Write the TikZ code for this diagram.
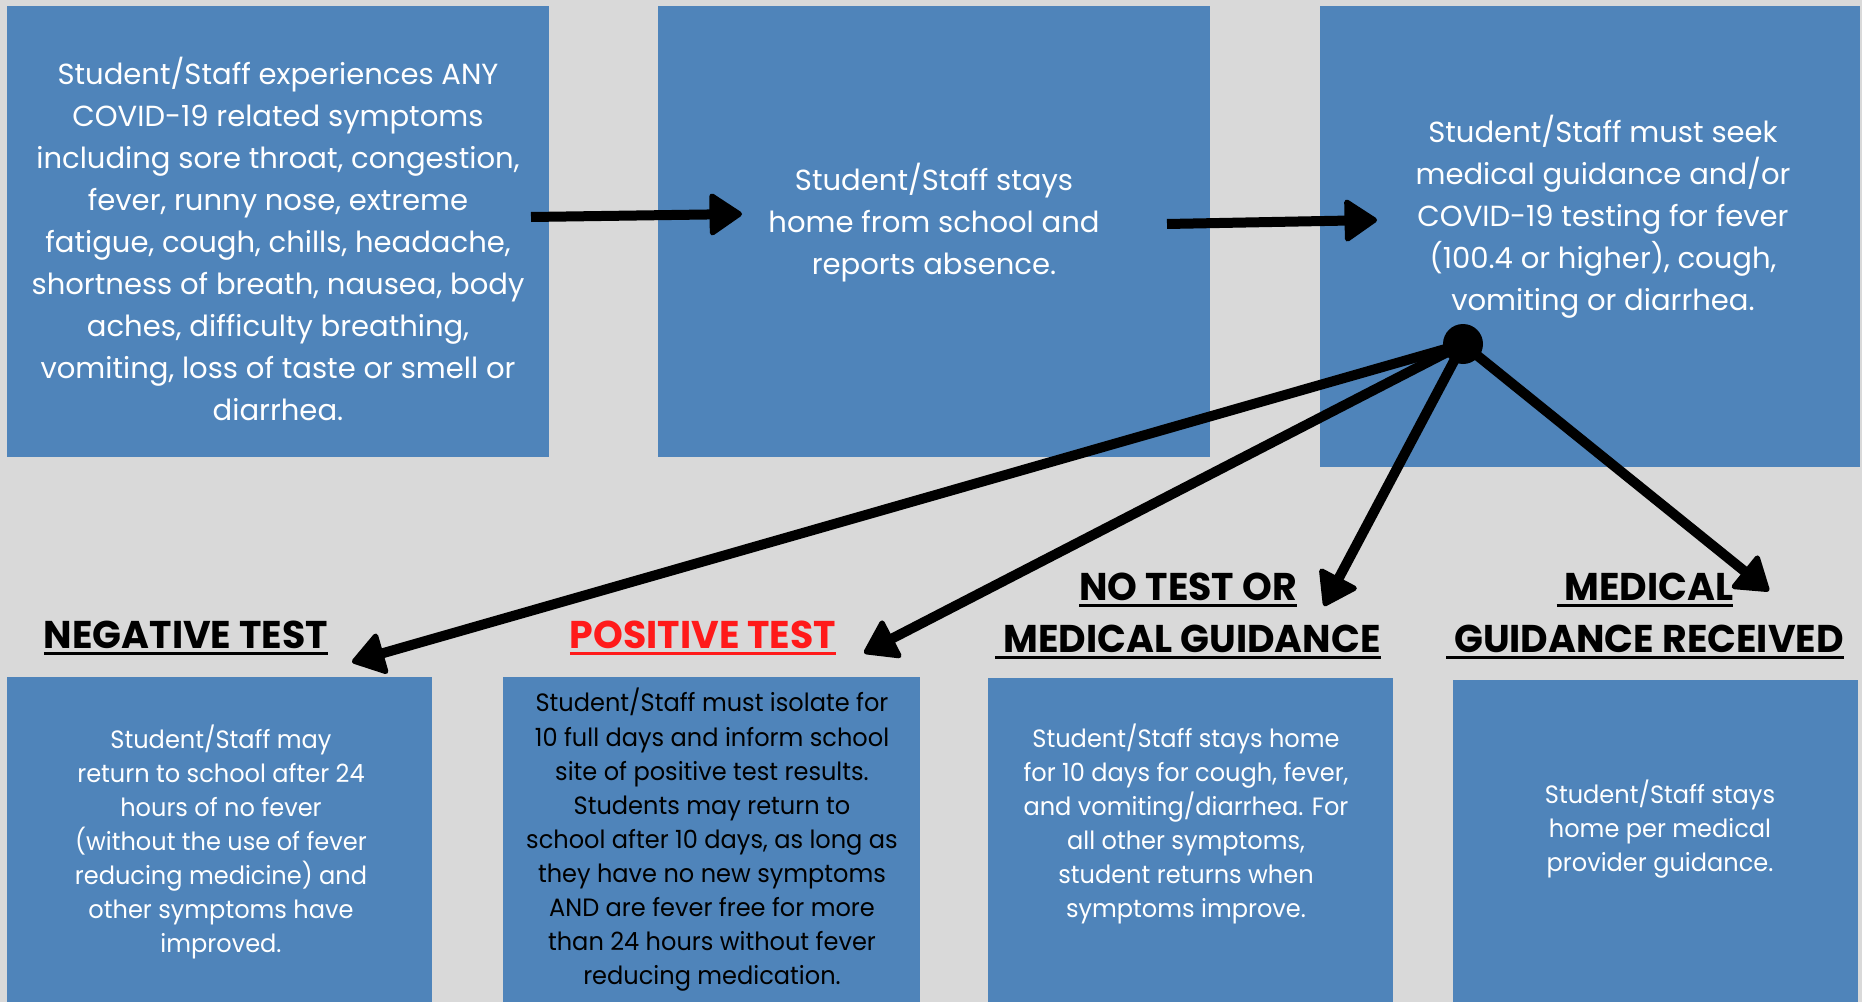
\documentclass[tikz,border=0pt]{standalone}
\usepackage{fontspec}
\setmainfont{Poppins}
\newfontfamily\narrowfont[FakeStretch=0.96]{Poppins}
\newfontfamily\headfont[FakeStretch=0.98]{Poppins}
\newcommand\headul[1]{\setbox0\hbox{#1}\leavevmode\rlap{\rule[-5pt]{\wd0}{2.4pt}}\box0}
\usetikzlibrary{arrows.meta}
\definecolor{boxblue}{HTML}{4F84BA}
\definecolor{pagegray}{HTML}{D9D9D9}
\definecolor{posred}{HTML}{FF1A1A}

\begin{document}
\begin{tikzpicture}[x=0.75pt,y=0.75pt,yscale=-1,xscale=1,
  panel/.style={fill=boxblue,inner sep=0pt,anchor=north west},
  toptext/.style={text=white,align=center,font=\fontsize{21.8}{31.5}\selectfont},
  lowtext/.style={text=white,align=center,font=\narrowfont\fontsize{18.8}{25.6}\selectfont},
  heading/.style={align=center,font=\headfont\bfseries\fontsize{29}{39}\selectfont},
  flow/.style={line width=7.5pt,-{Triangle[length=26pt,width=34pt,round,line width=4pt]}}]

%Shape: Background
\fill[pagegray] (0,0) rectangle (1862,1002);
\useasboundingbox (0,0) rectangle (1862,1002);

%Shape: Top panels
\node[panel,minimum width=406.5pt,minimum height=338.25pt] (symbox) at (7,6) {};
\node[panel,minimum width=414pt,minimum height=338.25pt] (homebox) at (658,6) {};
\node[panel,minimum width=405pt,minimum height=345.75pt] (seekbox) at (1320,6) {};
%Shape: Bottom panels
\node[panel,minimum width=318.75pt,minimum height=243.75pt] (negbox) at (7,677) {};
\node[panel,minimum width=312.75pt,minimum height=243.75pt] (posbox) at (503,677) {};
\node[panel,minimum width=303.75pt,minimum height=243pt] (nobox) at (988,678) {};
\node[panel,minimum width=303.75pt,minimum height=241.5pt] (medbox) at (1453,680) {};

% Text Node
\node[toptext] (symtext) at (278,239) {Student/Staff experiences ANY\\COVID-19 related symptoms\\including sore throat, congestion,\\fever, runny nose, extreme\\fatigue, cough, chills, headache,\\shortness of breath, nausea, body\\aches, difficulty breathing,\\vomiting, loss of taste or smell or\\diarrhea.};
% Text Node
\node[toptext] (hometext) at (934,223) {Student/Staff stays\\home from school and\\reports absence.};
% Text Node
\node[toptext] (seektext) at (1603,217) {Student/Staff must seek\\medical guidance and/or\\COVID-19 testing for fever\\(100.4 or higher), cough,\\vomiting or diarrhea.};

% Text Node
\node[heading] (neghead) at (186,638) {\headul{NEGATIVE TEST}};
% Text Node
\node[heading,text=posred] (poshead) at (703,638) {\headul{POSITIVE TEST}};
% Text Node
\node[heading] (nohead) at (1188,616) {\headul{NO TEST OR}\\\headul{\ MEDICAL GUIDANCE}};
% Text Node
\node[heading] (medhead) at (1645,616) {\headul{\ MEDICAL}\\\headul{\ GUIDANCE RECEIVED}};

% Text Node
\node[lowtext] (negtext) at (221,842) {Student/Staff may\\return to school after 24\\hours of no fever\\(without the use of fever\\reducing medicine) and\\other symptoms have\\improved.};
% Text Node
\node[lowtext,text=black] (postext) at (712,840) {Student/Staff must isolate for\\10 full days and inform school\\site of positive test results.\\Students may return to\\school after 10 days, as long as\\they have no new symptoms\\AND are fever free for more\\than 24 hours without fever\\reducing medication.};
% Text Node
\node[lowtext] (notext) at (1186,824) {Student/Staff stays home\\for 10 days for cough, fever,\\and vomiting/diarrhea. For\\all other symptoms,\\student returns when\\symptoms improve.};
% Text Node
\node[lowtext] (medtext) at (1660,829) {Student/Staff stays\\home per medical\\provider guidance.};

%Arrow ends
\coordinate (a1s) at (531,217);
\coordinate (a1e) at (742,214);
\coordinate (a2s) at (1167,224);
\coordinate (a2e) at (1377,220);
\coordinate (negtip) at (352,662);
\coordinate (postip) at (864,653);
\coordinate (notip) at (1324,606);
\coordinate (medtip) at (1769,591);
\node[circle,fill=black,inner sep=0pt,minimum size=30pt] (hub) at (1463,344) {};

%Arrows
\draw[flow] (a1s) -- (a1e);
\draw[flow] (a2s) -- (a2e);
\draw[flow] (hub.center) -- (negtip);
\draw[flow] (hub.center) -- (postip);
\draw[flow] (hub.center) -- (notip);
\draw[flow] (hub.center) -- (medtip);

\end{tikzpicture}
\end{document}
